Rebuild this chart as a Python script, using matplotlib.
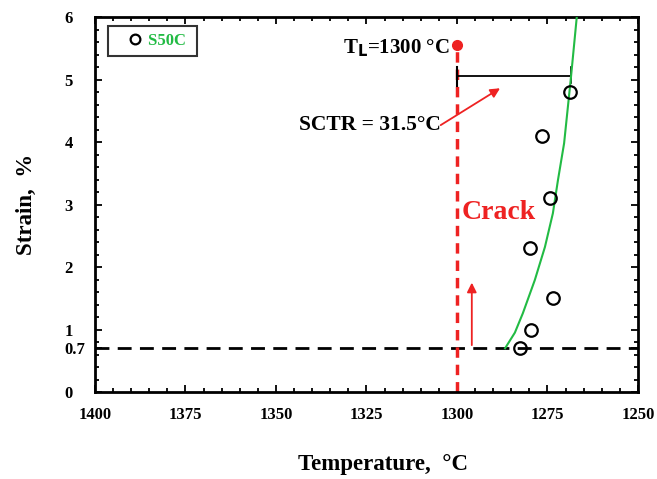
import matplotlib.pyplot as plt
import matplotlib.ticker as ticker

SIZE = 12
plt.rc('font', family=['Liberation Serif', 'DejaVu Serif'], weight='bold', size=SIZE)
plt.rc('axes', labelweight='bold')

# measured points, S50C
temp_pts = [1282.6, 1279.6, 1273.5, 1279.8, 1274.3, 1276.5, 1268.8]
strain_pts = [0.7, 1.0, 1.5, 2.3, 3.1, 4.1, 4.8]

# green fitted curve
curve_temp = [1286.7, 1284.0, 1281.8, 1278.5, 1275.7, 1273.5, 1272.1, 1270.4, 1268.5, 1266.9]
curve_strain = [0.7, 0.95, 1.26, 1.79, 2.32, 2.86, 3.39, 3.98, 5.04, 6.0]

T_L = 1300
sctr_end = 1268.5
threshold = 0.7
yticks = [0, 0.7, 1, 2, 3, 4, 5, 6]
ylabels = ['0', '0.7', '1', '2', '3', '4', '5', '6']
xticks = [1400, 1375, 1350, 1325, 1300, 1275, 1250]

fig = plt.figure(figsize=(6.57, 4.79), dpi=100)
ax = fig.add_axes([0.1446, 0.1816, 0.8264, 0.7829])

ax.plot(curve_temp, curve_strain, '-', color='#22bb44', lw=1.5, zorder=3)
ax.plot(temp_pts, strain_pts, 'o', mfc='none', mec='black', mew=1.6, ms=9,
        label='S50C ', zorder=4)

# threshold line and liquidus line
ax.axhline(threshold, color='black', ls=(0, (5, 3)), lw=2, zorder=2)
ax.plot([T_L, T_L], [0, 5.5], color='#ee2222', ls=(0, (3, 2)), lw=2.5, zorder=2)
ax.plot([T_L], [5.55], 'o', color='#ee2222', ms=7, zorder=5)

# SCTR bar
ax.plot([T_L, sctr_end], [5.05, 5.05], color='black', lw=1.3)
ax.plot([T_L, T_L], [4.9, 5.2], color='black', lw=1.5)
ax.plot([sctr_end, sctr_end], [4.95, 5.2], color='black', lw=1.2)

ax.text(T_L + 2, 5.5, r'T$_\mathbf{L}$=1300 °C', ha='right', va='center', fontsize=15)
ax.text(1304.5, 4.27, 'SCTR = 31.5°C', ha='right', va='center', fontsize=15.5)
ax.annotate('', xy=(1288.1, 4.86), xytext=(1304.5, 4.27),
            arrowprops=dict(arrowstyle='-|>', color='#ee2222', lw=1.3, mutation_scale=14,
                            shrinkA=0, shrinkB=0))
ax.annotate('', xy=(1295.9, 1.75), xytext=(1295.9, 0.75),
            arrowprops=dict(arrowstyle='-|>', color='#ee2222', lw=1.3, mutation_scale=14,
                            shrinkA=0, shrinkB=0))
ax.text(1298.6, 2.88, 'Crack', color='#ee2222', fontsize=20, ha='left', va='center')

ax.set_xlim(1400, 1250)
ax.set_ylim(0, 6)
ax.set_xticks(xticks)
ax.set_yticks(yticks)
ax.set_yticklabels(ylabels, ha='left')
ax.xaxis.set_minor_locator(ticker.MultipleLocator(5))
ax.yaxis.set_minor_locator(ticker.MultipleLocator(0.2))
ax.tick_params(which='both', direction='in', top=True, right=True, width=1.3)
ax.tick_params(which='major', length=5)
ax.tick_params(which='minor', length=3)
ax.tick_params(axis='x', which='major', pad=11)
ax.tick_params(axis='y', which='major', pad=22)
for s in ax.spines.values():
    s.set_linewidth(2)

ax.set_xlabel('Temperature,  °C', fontsize=16.5, labelpad=22)
ax.xaxis.label.set_x(0.53)
ax.set_ylabel('Strain,  %', fontsize=16.5, labelpad=20)

leg = ax.legend(loc='upper left', handletextpad=-0.4, handlelength=2.4,
                frameon=True, fancybox=False, edgecolor='black',
                borderpad=0.4, borderaxespad=0, bbox_to_anchor=(0.024, 0.975),
                fontsize=12)
leg.get_frame().set_linewidth(1.5)
for t in leg.get_texts():
    t.set_color('#22bb44')
for h in leg.legend_handles:
    h.set_markersize(7)

fig.savefig('out.png', dpi=100)
